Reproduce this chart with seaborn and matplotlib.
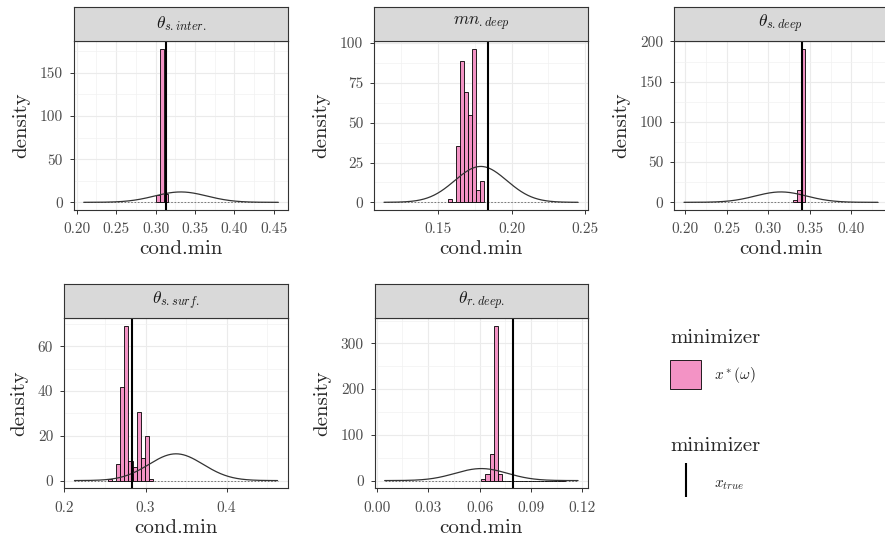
import matplotlib
matplotlib.use("Agg")
import matplotlib.pyplot as plt
import numpy as np
import pandas as pd
import seaborn as sns
from matplotlib.lines import Line2D
from matplotlib.patches import Patch

# ----------------------------
# Data
# ----------------------------
titles = [r"$\theta_{s.inter.}$", r"$mn_{.deep}$", r"$\theta_{s.deep}$",
          r"$\theta_{s.surf.}$", r"$\theta_{r.deep.}$"]

# histogram of x*(omega): first bin edge, bin width, densities
bin_starts = [0.3000, 0.1564, 0.3296, 0.2534, 0.0610]
bin_widths = [0.0051, 0.00273, 0.0048, 0.00511, 0.00245]
dens_s_inter = [9, 178, 10]
dens_mn_deep = [2, 0, 35.5, 88.5, 69, 55, 96.5, 8, 13.5]
dens_s_deep = [3, 15, 191]
dens_s_surf = [0.9, 0, 7.3, 42, 69, 8.7, 6.1, 30.4, 10.3, 20, 0.9]
dens_r_deep = [4, 15, 58, 338, 14, 0, 0, 0, 0, 0,
               0, 0, 0, 0, 0, 0, 0, 0, 0, 2]
densities = [dens_s_inter, dens_mn_deep, dens_s_deep, dens_s_surf, dens_r_deep]

# normal prior curves
prior_means = [0.332, 0.179, 0.315, 0.3376, 0.061]
prior_sds = [0.0332, 0.0177, 0.0309, 0.0334, 0.0152]
prior_lo = [0.209, 0.1132, 0.1983, 0.2123, 0.0047]
prior_hi = [0.4556, 0.2451, 0.4319, 0.4628, 0.1174]

x_true = [0.313, 0.1841, 0.341, 0.2837, 0.0795]

x_ticks = [[0.20, 0.25, 0.30, 0.35, 0.40, 0.45],
           [0.15, 0.20, 0.25],
           [0.20, 0.25, 0.30, 0.35, 0.40],
           [0.2, 0.3, 0.4],
           [0.00, 0.03, 0.06, 0.09, 0.12]]
x_fmt = ["{:.2f}", "{:.2f}", "{:.2f}", "{:.1f}", "{:.2f}"]
y_ticks = [[0, 50, 100, 150],
           [0, 25, 50, 75, 100],
           [0, 50, 100, 150, 200],
           [0, 20, 40, 60],
           [0, 100, 200, 300]]

PINK = "#F393C5"
W, H = 885, 537

# panel boxes in pixels: left, right, top, bottom
boxes = [(74, 288, 41, 210), (374.3, 587.7, 41, 210), (674.3, 887.6, 41, 210),
         (64.3, 287.7, 318.3, 488.3), (375, 587.7, 318.3, 488.3)]
STRIP = 34

sns.set_theme(style="white")
plt.rcParams["font.family"] = "serif"
plt.rcParams["font.serif"] = ["cmr10", "DejaVu Serif"]
plt.rcParams["mathtext.fontset"] = "cm"
plt.rcParams["axes.formatter.use_mathtext"] = True
plt.rcParams["axes.unicode_minus"] = False

fig = plt.figure(figsize=(W / 100, H / 100), dpi=100)

for i in range(5):
    l, r, t, b = boxes[i]
    ax = fig.add_axes([l / W, 1 - b / H, (r - l) / W, (b - t) / H])
    sax = fig.add_axes([l / W, 1 - t / H, (r - l) / W, STRIP / H])

    # strip
    sax.set_facecolor("#D9D9D9")
    sax.set_xticks([])
    sax.set_yticks([])
    for sp in sax.spines.values():
        sp.set_color("#333333")
        sp.set_linewidth(0.8)
    sax.text(0.5, 0.5, titles[i], ha="center", va="center",
             fontsize=12.5, color="#1A1A1A", transform=sax.transAxes)

    # histogram
    dens = np.array(densities[i], dtype=float)
    edges = bin_starts[i] + bin_widths[i] * np.arange(len(dens) + 1)
    hist_df = pd.DataFrame({"x": (edges[:-1] + edges[1:]) / 2, "w": dens})
    sns.histplot(data=hist_df, x="x", weights="w", bins=list(edges),
                 stat="count", color=PINK, edgecolor="black", linewidth=0.6,
                 alpha=1, ax=ax, zorder=3)

    # prior curve
    xs = np.linspace(prior_lo[i], prior_hi[i], 400)
    ys = np.exp(-0.5 * ((xs - prior_means[i]) / prior_sds[i]) ** 2) / (
        prior_sds[i] * np.sqrt(2 * np.pi))
    ax.plot([prior_lo[i], prior_hi[i]], [0, 0], color="#666666", lw=0.6,
            ls=(0, (2, 2)), zorder=2)
    sns.lineplot(x=xs, y=ys, color="#333333", lw=0.9, ax=ax, zorder=4)

    # true value
    ax.axvline(x_true[i], color="black", lw=1.5, zorder=5)

    # ticks (major + ggplot-style minor grid)
    xt = x_ticks[i]
    ax.set_xticks(xt)
    ax.set_xticklabels([x_fmt[i].format(v) for v in xt])
    step = xt[1] - xt[0]
    ax.set_xticks(np.arange(xt[0] - step / 2, xt[-1] + step, step), minor=True)
    yt = y_ticks[i]
    ax.set_yticks(yt)
    ax.set_yticklabels([str(v) for v in yt])
    ys_ = yt[1] - yt[0]
    ax.set_yticks(np.arange(yt[0] + ys_ / 2, yt[-1] + ys_, ys_), minor=True)

    # limits, ggplot-style 5% expansion
    span = prior_hi[i] - prior_lo[i]
    ax.set_xlim(prior_lo[i] - 0.05 * span, prior_hi[i] + 0.05 * span)
    ymax = dens.max()
    ax.set_ylim(-0.05 * ymax, 1.05 * ymax)

    ax.grid(which="major", color="#EBEBEB", lw=0.8, zorder=0)
    ax.grid(which="minor", color="#F2F2F2", lw=0.5, zorder=0)
    ax.set_axisbelow(True)
    ax.tick_params(which="major", direction="out", length=3, width=0.7,
                   color="#333333", labelcolor="#4D4D4D", labelsize=11,
                   bottom=True, left=True)
    ax.tick_params(axis="x", which="major", pad=6)
    ax.tick_params(axis="y", which="major", pad=5)
    ax.tick_params(which="minor", length=0)
    for sp in ax.spines.values():
        sp.set_color("#333333")
        sp.set_linewidth(0.8)

    ax.set_xlabel("cond.min", fontsize=15, labelpad=3)
    ax.set_ylabel("density", fontsize=15, labelpad=7)

# ----------------------------
# Legends (titles as separate text)
# ----------------------------
fig.text(670 / W, 1 - 338 / H, "minimizer", fontsize=15,
         ha="left", va="center")
fig.legend(handles=[Patch(facecolor=PINK, edgecolor="black", lw=0.6)],
           labels=[r"$x^*(\omega)$"],
           loc="center left", bbox_to_anchor=(670 / W, 1 - 374.5 / H),
           frameon=False, fontsize=11, handlelength=2.05, handleheight=2.6,
           borderpad=0, borderaxespad=0, handletextpad=0.8)

fig.text(670 / W, 1 - 446 / H, "minimizer", fontsize=15,
         ha="left", va="center")
fig.legend(handles=[Line2D([], [], color="black", marker="|",
                           markersize=24, markeredgewidth=1.5,
                           linestyle="None")],
           labels=[r"$x_{true}$"],
           loc="center left", bbox_to_anchor=(670 / W, 1 - 483 / H),
           frameon=False, fontsize=11, handlelength=2.05, handleheight=2.0,
           borderpad=0, borderaxespad=0, handletextpad=0.8)

fig.savefig("out.png", dpi=100)
